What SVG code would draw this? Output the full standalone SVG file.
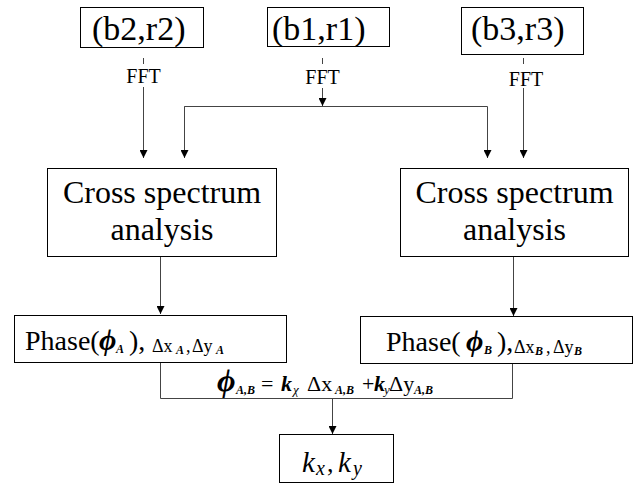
<svg xmlns="http://www.w3.org/2000/svg" width="636" height="485" viewBox="0 0 636 485">
<style>
.box{fill:#fff;stroke:#000;stroke-width:1}
.ln{fill:none;stroke:#444;stroke-width:1}
.t{font-family:"Liberation Serif","DejaVu Serif",serif;fill:#000}
.ffl{font-size:20px;text-anchor:middle}
.big{font-size:34px}
.cs{font-size:32px;text-anchor:middle}
.ph{font-size:28px}
.sm{font-size:18px}
.sub{font-size:12px;font-style:italic;font-weight:bold}
.phi{font-style:italic;font-weight:bold}
.it{font-style:italic}
</style>
<defs>
<marker id="arr" viewBox="0 0 8 8" refX="8" refY="4" markerWidth="8" markerHeight="8" markerUnits="userSpaceOnUse" orient="auto">
<path d="M0,0 L8,4 L0,8 z" fill="#000"/>
</marker>
</defs>
<g id="connectors">
<path class="ln" d="M143.5,58 V64"/>
<path class="ln" d="M143.5,87 V158" marker-end="url(#arr)"/>
<path class="ln" d="M322.5,58 V64"/>
<path class="ln" d="M322.5,88 V106" marker-end="url(#arr)"/>
<path class="ln" d="M184.5,158 V106.5 H487.5 V158" marker-end="url(#arr)"/>
<path class="ln" d="M184.5,106.5 V158" marker-end="url(#arr)"/>
<path class="ln" d="M523.5,58 V64"/>
<path class="ln" d="M523.5,88 V158" marker-end="url(#arr)"/>
<path class="ln" d="M160.5,257 V314" marker-end="url(#arr)"/>
<path class="ln" d="M513.5,257 V316" marker-end="url(#arr)"/>
<path class="ln" d="M160.5,363 V398.5 H512.5 V364"/>
<path class="ln" d="M332.5,398.5 V434" marker-end="url(#arr)"/>
<text class="t ffl" x="143.5" y="83">FFT</text>
<text class="t ffl" x="322.5" y="84">FFT</text>
<text class="t ffl" x="526" y="86">FFT</text>
<text class="t" y="391">
<tspan class="phi" x="217" font-size="32">ϕ</tspan><tspan class="sub" x="236" y="394" font-size="13">A,B</tspan><tspan x="261" y="391" font-size="22">=</tspan><tspan class="phi" x="281" font-size="22">k</tspan><tspan class="it" x="293" y="394" font-size="13">χ</tspan><tspan x="307" y="391" font-size="22">Δx</tspan><tspan class="sub" x="335" y="394" font-size="13">A,B</tspan><tspan x="362" y="391" font-size="22">+</tspan><tspan class="phi" x="374" font-size="22">k</tspan><tspan class="it" x="384" y="394" font-size="13">y</tspan><tspan x="389" y="391" font-size="22">Δy</tspan><tspan class="sub" x="414" y="394" font-size="13">A,B</tspan>
</text>
</g>
<g id="b2r2">
<rect class="box" x="80.5" y="7.5" width="123" height="40"/>
<text class="t big" x="92" y="40">(b2,r2)</text>
</g>
<g id="b1r1">
<rect class="box" x="267.5" y="7.5" width="122" height="39"/>
<text class="t big" x="272" y="40">(b1,r1)</text>
</g>
<g id="b3r3">
<rect class="box" x="461.5" y="7.5" width="122" height="47"/>
<text class="t big" x="471" y="40">(b3,r3)</text>
</g>
<g id="cross-left">
<rect class="box" x="47.5" y="168.5" width="229" height="88"/>
<text class="t cs" x="162" y="203">Cross spectrum</text>
<text class="t cs" x="162" y="240">analysis</text>
</g>
<g id="cross-right">
<rect class="box" x="400.5" y="168.5" width="228" height="88"/>
<text class="t cs" x="514.5" y="203">Cross spectrum</text>
<text class="t cs" x="514.5" y="240">analysis</text>
</g>
<g id="phase-a">
<rect class="box" x="14.5" y="315.5" width="272" height="47"/>
<text class="t" y="350"><tspan class="ph" x="25">Phase(</tspan><tspan class="phi" x="99" font-size="30">ϕ</tspan><tspan class="sub" x="116" y="353">A</tspan><tspan class="ph" x="129" y="350">),</tspan><tspan class="sm" x="152" y="352">Δx</tspan><tspan class="sub" x="176" y="354">A</tspan><tspan class="sm" x="186" y="352">,</tspan><tspan class="sm" x="192" y="352">Δy</tspan><tspan class="sub" x="216" y="354">A</tspan></text>
</g>
<g id="phase-b">
<rect class="box" x="360.5" y="316.5" width="272" height="47"/>
<text class="t" y="351"><tspan class="ph" x="386">Phase(</tspan><tspan class="phi" x="466" font-size="30">ϕ</tspan><tspan class="sub" x="484" y="354">B</tspan><tspan class="ph" x="497" y="351">),</tspan><tspan class="sm" x="514" y="353">Δx</tspan><tspan class="sub" x="535" y="355">B</tspan><tspan class="sm" x="546" y="353">,</tspan><tspan class="sm" x="553" y="353">Δy</tspan><tspan class="sub" x="574" y="355">B</tspan></text>
</g>
<g id="kxky">
<rect class="box" x="279.5" y="434.5" width="114" height="48"/>
<text class="t" y="472"><tspan class="it" x="302" font-size="29">k</tspan><tspan class="it" x="316" y="475" font-size="20">x</tspan><tspan x="327" y="472" font-size="26">,</tspan><tspan class="it" x="338" font-size="29">k</tspan><tspan class="it" x="353" y="475" font-size="20">y</tspan></text>
</g>
</svg>
